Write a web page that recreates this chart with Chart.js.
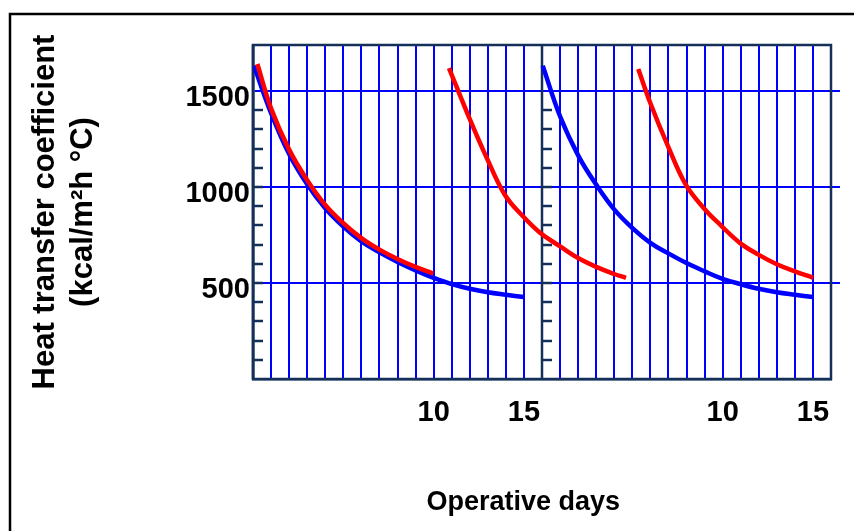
<!DOCTYPE html>
<html>
<head>
<meta charset="utf-8">
<title>Heat transfer coefficient vs operative days</title>
<script src="https://cdn.jsdelivr.net/npm/chart.js@4.4.1/dist/chart.umd.min.js"></script>
<style>
    html, body { margin: 0; padding: 0; background: #fff; }
    #wrap { width: 854px; height: 531px; }
</style>
</head>
<body>
<div id="wrap"><canvas id="htc" width="854" height="531"></canvas></div>
<script>
(function () {
    'use strict';

    // ====== Data (days 0-16 = first panel, 16-32 = second panel) ======
    const xTickValues = [10, 15, 26, 31];
    const xTickText = ['10', '15', '10', '15'];
    const yTickValues = [500, 1000, 1500];
    const minorTicks = [100, 200, 300, 400, 500, 600, 700, 800, 900, 1000, 1100, 1200, 1300, 1400];
    const panelEdges = [0, 16, 32];

    const blue1Days = [0.05, 1, 2, 3, 4, 5, 6, 7, 8, 9, 10, 11, 12, 13, 14, 15];
    const blue1Coef = [1632, 1385, 1172, 1014, 889, 794, 717, 660, 610, 566, 527, 494, 470, 452, 439, 427];

    const red1Days = [0.24, 1, 2, 3, 4, 5, 6, 7, 8, 9, 9.98];
    const red1Coef = [1641, 1410, 1195, 1036, 907, 812, 734, 674, 625, 584, 549];

    const red2Days = [10.85, 11.93, 12.95, 13.94, 14.92, 15.89, 17, 18, 19, 20, 20.65];
    const red2Coef = [1620, 1370, 1150, 960, 850, 762, 691, 630, 584, 547, 527];

    const blue2Days = [16.04, 17.01, 18.03, 19.02, 20.02, 21.01, 22.02, 23.02, 24, 25, 26, 27, 28, 29, 30, 31];
    const blue2Coef = [1632, 1366, 1160, 1010, 881, 786, 708, 653, 604, 561, 522, 494, 470, 452, 439, 427];

    const red3Days = [21.33, 21.98, 22.98, 23.96, 24.96, 25.97, 26.97, 27.98, 29, 30, 31.02];
    const red3Coef = [1615, 1442, 1212, 1012, 890, 794, 708, 648, 598, 561, 527];

    const BLUE = '#0000ff';
    const RED = '#ff0000';
    const NAVY = '#14305a';
    const FONT = '"Liberation Sans", Arial, sans-serif';

    const toPoints = (xs, ys) => xs.map((d, i) => ({ x: d, y: ys[i] }));

    const curve = (pts, color) => ({
        data: pts,
        borderColor: color,
        borderWidth: 4.5,
        pointRadius: 0,
        tension: 0.4,
        fill: false
    });

    // ====== Frame, panel borders, inward minor ticks ======
    const panelFrame = {
        id: 'panelFrame',
        beforeDraw(chart) {
            const ctx = chart.ctx;
            ctx.save();
            ctx.strokeStyle = '#000';
            ctx.lineWidth = 2.5;
            ctx.beginPath();
            ctx.moveTo(10, chart.height);
            ctx.lineTo(10, 14);
            ctx.lineTo(chart.width, 14);
            ctx.stroke();
            ctx.restore();
        },
        beforeDatasetsDraw(chart) {
            const { ctx, chartArea: a, scales: { x, y } } = chart;
            ctx.save();
            ctx.strokeStyle = BLUE;
            ctx.lineWidth = 2;
            yTickValues.forEach(v => {
                const py = Math.round(y.getPixelForValue(v));
                ctx.beginPath();
                ctx.moveTo(a.right, py);
                ctx.lineTo(a.right + 9, py);
                ctx.stroke();
            });
            ctx.strokeStyle = NAVY;
            ctx.lineWidth = 2.5;
            ctx.strokeRect(a.left, a.top, a.right - a.left, a.bottom - a.top);
            panelEdges.slice(0, 2).forEach(d => {
                const px = Math.round(x.getPixelForValue(d));
                ctx.beginPath();
                ctx.moveTo(px, a.top);
                ctx.lineTo(px, a.bottom);
                ctx.stroke();
                minorTicks.forEach(v => {
                    const py = Math.round(y.getPixelForValue(v));
                    ctx.beginPath();
                    ctx.moveTo(px, py);
                    ctx.lineTo(px + 10, py);
                    ctx.stroke();
                });
            });
            ctx.restore();
        }
    };

    new Chart(document.getElementById('htc'), {
        type: 'line',
        data: {
            datasets: [
                curve(toPoints(red1Days, red1Coef), RED),
                curve(toPoints(red2Days, red2Coef), RED),
                curve(toPoints(red3Days, red3Coef), RED),
                curve(toPoints(blue1Days, blue1Coef), BLUE),
                curve(toPoints(blue2Days, blue2Coef), BLUE)
            ]
        },
        options: {
            responsive: false,
            animation: false,
            layout: { padding: { top: 45, right: 23, bottom: 0, left: 12 } },
            plugins: { legend: { display: false }, tooltip: { enabled: false } },
            scales: {
                x: {
                    type: 'linear',
                    min: 0,
                    max: 32,
                    afterFit: (s) => { s.height = 152; },
                    border: { color: NAVY, width: 2.5 },
                    grid: {
                        color: (c) => panelEdges.includes(c.tick.value) ? NAVY : BLUE,
                        lineWidth: 2,
                        drawTicks: false
                    },
                    ticks: {
                        stepSize: 1,
                        autoSkip: false,
                        maxRotation: 0,
                        minRotation: 0,
                        padding: 17,
                        color: '#000',
                        font: { family: FONT, size: 29, weight: 'bold' },
                        callback: (v) => {
                            const i = xTickValues.indexOf(v);
                            return i >= 0 ? xTickText[i] : '';
                        }
                    },
                    title: {
                        display: true,
                        // trailing spaces pull the title a little left of the axis centre, as in the original
                        text: 'Operative days\u00a0\u00a0\u00a0\u00a0\u00a0',
                        color: '#000',
                        font: { family: FONT, size: 27, weight: 'bold', lineHeight: 1.2 },
                        padding: { top: 0, bottom: 12 }
                    }
                },
                y: {
                    min: 0,
                    max: 1740,
                    afterFit: (s) => { s.width = 241; },
                    border: { color: NAVY, width: 2.5 },
                    grid: {
                        color: (c) => yTickValues.includes(c.tick.value) ? BLUE : 'rgba(0,0,0,0)',
                        lineWidth: 2,
                        drawTicks: false
                    },
                    ticks: {
                        stepSize: 100,
                        includeBounds: false,
                        autoSkip: false,
                        padding: 3,
                        labelOffset: 7,
                        color: '#000',
                        font: { family: FONT, size: 29, weight: 'bold' },
                        callback: (v) => yTickValues.includes(v) ? String(v) : ''
                    },
                    title: {
                        display: true,
                        text: ['Heat transfer coefficient', '(kcal/m\u00b2h \u00b0C)'],
                        color: '#000',
                        font: { family: FONT, size: 31, weight: 'bold', lineHeight: 1.22 },
                        padding: { top: 15, bottom: 0 }
                    }
                }
            }
        },
        plugins: [panelFrame]
    });
})();
</script>
</body>
</html>
